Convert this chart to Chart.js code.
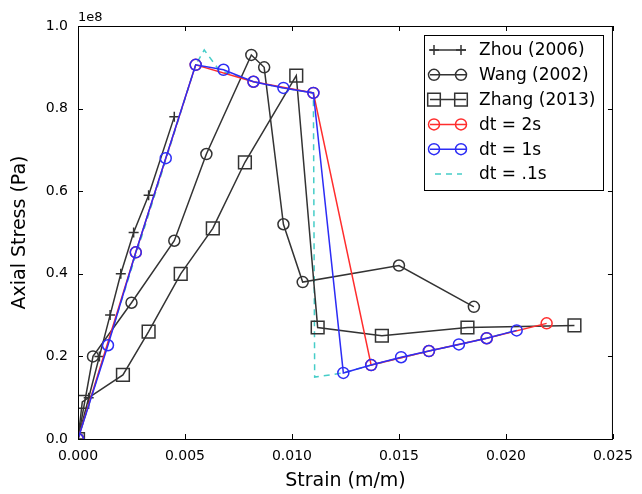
<!DOCTYPE html>
<html>
<head>
<meta charset="utf-8">
<script src="https://cdn.jsdelivr.net/npm/chart.js@4"></script>
<style>
  html, body { margin: 0; padding: 0; background: #fff; }
  #wrap { width: 642px; height: 494px; }
</style>
</head>
<body>
<div id="wrap"><canvas id="stressChart" width="642" height="494"></canvas></div>
<script>
// Axis ticks
const xTicks = [0, 0.005, 0.010, 0.015, 0.020, 0.025];
const yTicks = [0, 0.2, 0.4, 0.6, 0.8, 1.0]; // x 1e8 Pa

const seriesNames = ['Zhou (2006)', 'Wang (2002)', 'Zhang (2013)', 'dt = 2s', 'dt = 1s', 'dt = .1s'];

// Stress values in units of 1e8 Pa
const zhouStrain = [0, 0.0005, 0.0010, 0.0015, 0.0020, 0.0026, 0.0033, 0.0045];
const zhouStress = [0, 0.10, 0.20, 0.30, 0.40, 0.50, 0.59, 0.78];

const wangStrain = [0, 0.0007, 0.0025, 0.0045, 0.0060, 0.0081, 0.0087, 0.0096, 0.0105, 0.0150, 0.0185];
const wangStress = [0, 0.20, 0.33, 0.48, 0.69, 0.93, 0.90, 0.52, 0.38, 0.42, 0.32];

const zhangStrain = [0, 0.0002, 0.0021, 0.0033, 0.0048, 0.0063, 0.0078, 0.0102, 0.0112, 0.0142, 0.0182, 0.0232];
const zhangStress = [0, 0.09, 0.155, 0.26, 0.40, 0.51, 0.67, 0.88, 0.27, 0.25, 0.27, 0.275];

const dt2Strain = [0, 0.0027, 0.0055, 0.0082, 0.0110, 0.0137, 0.0164, 0.0191, 0.0219];
const dt2Stress = [0, 0.452, 0.906, 0.865, 0.838, 0.179, 0.213, 0.244, 0.280];

const dt1Strain = [0, 0.0014, 0.0027, 0.0041, 0.0055, 0.0068, 0.0082, 0.0096, 0.0110, 0.0124, 0.0137, 0.0151, 0.0164, 0.0178, 0.0191, 0.0205];
const dt1Stress = [0, 0.227, 0.452, 0.680, 0.906, 0.894, 0.865, 0.850, 0.838, 0.160, 0.179, 0.198, 0.213, 0.229, 0.244, 0.263];

const dt01Strain = [0, 0.0055, 0.0059, 0.0066, 0.0082, 0.0096, 0.0110, 0.01106, 0.0124, 0.0137, 0.0164, 0.0191, 0.0205];
const dt01Stress = [0, 0.906, 0.942, 0.893, 0.865, 0.850, 0.838, 0.150, 0.160, 0.179, 0.213, 0.244, 0.263];

const BLACK = '#333333';
const RED = 'rgb(255,45,45)';
const BLUE = 'rgb(45,45,245)';
const CYAN = 'rgb(70,205,200)';
const FONT = '"DejaVu Sans", sans-serif';

function toPoints(xs, ys) {
    return xs.map((x, i) => ({ x: x, y: ys[i] }));
}

function series(label, xs, ys, color, style, radius, order, dash) {
    return {
        label: label,
        data: toPoints(xs, ys),
        showLine: true,
        borderColor: color,
        borderWidth: 1.5,
        borderDash: dash || [],
        pointStyle: style,
        pointRadius: radius,
        pointBorderColor: color,
        pointBackgroundColor: 'rgba(0,0,0,0)',
        pointBorderWidth: 1.5,
        order: order
    };
}

const legendItems = [
    { color: BLACK, style: 'cross' },
    { color: BLACK, style: 'circle' },
    { color: BLACK, style: 'rect' },
    { color: RED, style: 'circle' },
    { color: BLUE, style: 'circle' },
    { color: CYAN, style: null, dash: [6, 5] }
];

function drawMarker(ctx, style, x, y, color) {
    ctx.save();
    ctx.strokeStyle = color;
    ctx.lineWidth = 1.5;
    ctx.beginPath();
    if (style === 'circle') {
        ctx.arc(x, y, 5.5, 0, Math.PI * 2);
    } else if (style === 'rect') {
        ctx.rect(x - 6.3, y - 6.3, 12.6, 12.6);
    } else if (style === 'cross') {
        ctx.moveTo(x - 5, y); ctx.lineTo(x + 5, y);
        ctx.moveTo(x, y - 5); ctx.lineTo(x, y + 5);
    }
    ctx.stroke();
    ctx.restore();
}

// Frame, inward ticks, offset text and legend box
const framePlugin = {
    id: 'frame',
    afterDraw(chart) {
        const ctx = chart.ctx;
        const a = chart.chartArea;
        const xs = chart.scales.x, ys = chart.scales.y;
        ctx.save();
        ctx.strokeStyle = '#000';
        ctx.lineWidth = 1;
        ctx.strokeRect(a.left + 0.5, a.top + 0.5, a.right - a.left - 1, a.bottom - a.top);
        ctx.beginPath();
        xTicks.forEach(v => {
            const px = Math.round(xs.getPixelForValue(v)) + 0.5;
            ctx.moveTo(px, a.bottom); ctx.lineTo(px, a.bottom - 5);
            ctx.moveTo(px, a.top); ctx.lineTo(px, a.top + 5);
        });
        yTicks.forEach(v => {
            const py = Math.round(ys.getPixelForValue(v)) + 0.5;
            ctx.moveTo(a.left, py); ctx.lineTo(a.left + 5, py);
            ctx.moveTo(a.right, py); ctx.lineTo(a.right - 5, py);
        });
        ctx.stroke();

        ctx.fillStyle = '#000';
        ctx.font = '13px ' + FONT;
        ctx.textAlign = 'left';
        ctx.textBaseline = 'alphabetic';
        ctx.fillText('1e8', a.left, a.top - 5);

        // legend
        const bx = 424, by = 35, bw = 179, bh = 155;
        ctx.fillStyle = '#fff';
        ctx.fillRect(bx, by, bw, bh);
        ctx.strokeStyle = '#000';
        ctx.strokeRect(bx + 0.5, by + 0.5, bw, bh);
        ctx.font = '17px ' + FONT;
        ctx.textBaseline = 'middle';
        legendItems.forEach((it, i) => {
            const y = 50 + i * 24.8;
            ctx.strokeStyle = it.color;
            ctx.lineWidth = 1.5;
            ctx.setLineDash(it.dash || []);
            ctx.beginPath();
            if (it.dash) {
                ctx.moveTo(435, y); ctx.lineTo(462, y);
            } else {
                ctx.moveTo(430, y); ctx.lineTo(466, y);
            }
            ctx.stroke();
            ctx.setLineDash([]);
            if (it.style) {
                drawMarker(ctx, it.style, 434, y, it.color);
                drawMarker(ctx, it.style, 461, y, it.color);
            }
            ctx.fillStyle = '#000';
            ctx.fillText(seriesNames[i], 479, y + 1);
        });
        ctx.restore();
    }
};

const ctx = document.getElementById('stressChart').getContext('2d');

// lower order is painted on top: blue over red, the fine dt curve underneath
new Chart(ctx, {
    type: 'scatter',
    data: {
        datasets: [
            series(seriesNames[0], zhouStrain, zhouStress, BLACK, 'cross', 5, 4),
            series(seriesNames[1], wangStrain, wangStress, BLACK, 'circle', 5.5, 3),
            series(seriesNames[2], zhangStrain, zhangStress, BLACK, 'rect', 9, 5),
            series(seriesNames[3], dt2Strain, dt2Stress, RED, 'circle', 5.5, 2),
            series(seriesNames[4], dt1Strain, dt1Stress, BLUE, 'circle', 5.5, 1),
            series(seriesNames[5], dt01Strain, dt01Stress, CYAN, 'circle', 0, 6, [6, 5])
        ]
    },
    options: {
        responsive: false,
        animation: false,
        layout: { padding: { top: 26, right: 28, left: 0, bottom: 0 } },
        plugins: {
            legend: { display: false },
            tooltip: { enabled: false }
        },
        scales: {
            x: {
                type: 'linear',
                min: 0,
                max: 0.025,
                afterBuildTicks: s => { s.ticks = xTicks.map(v => ({ value: v })); },
                afterFit: s => { s.height = 55; },
                grid: { display: false, drawTicks: false },
                border: { display: false },
                ticks: {
                    color: '#000',
                    font: { family: FONT, size: 14 },
                    padding: 9,
                    maxRotation: 0,
                    autoSkip: false,
                    callback: v => v.toFixed(3)
                },
                title: {
                    display: true,
                    text: 'Strain (m/m)',
                    color: '#000',
                    font: { family: FONT, size: 19 },
                    padding: { top: 0, bottom: 2 }
                }
            },
            y: {
                type: 'linear',
                min: 0,
                max: 1.0,
                afterBuildTicks: s => { s.ticks = yTicks.map(v => ({ value: v })); },
                afterFit: s => { s.width = 78; },
                grid: { display: false, drawTicks: false },
                border: { display: false },
                ticks: {
                    color: '#000',
                    font: { family: FONT, size: 14 },
                    padding: 10,
                    autoSkip: false,
                    callback: v => v.toFixed(1)
                },
                title: {
                    display: true,
                    text: 'Axial Stress (Pa)',
                    color: '#000',
                    font: { family: FONT, size: 19 },
                    padding: { top: 9, bottom: 0 }
                }
            }
        }
    },
    plugins: [framePlugin]
});
</script>
</body>
</html>
